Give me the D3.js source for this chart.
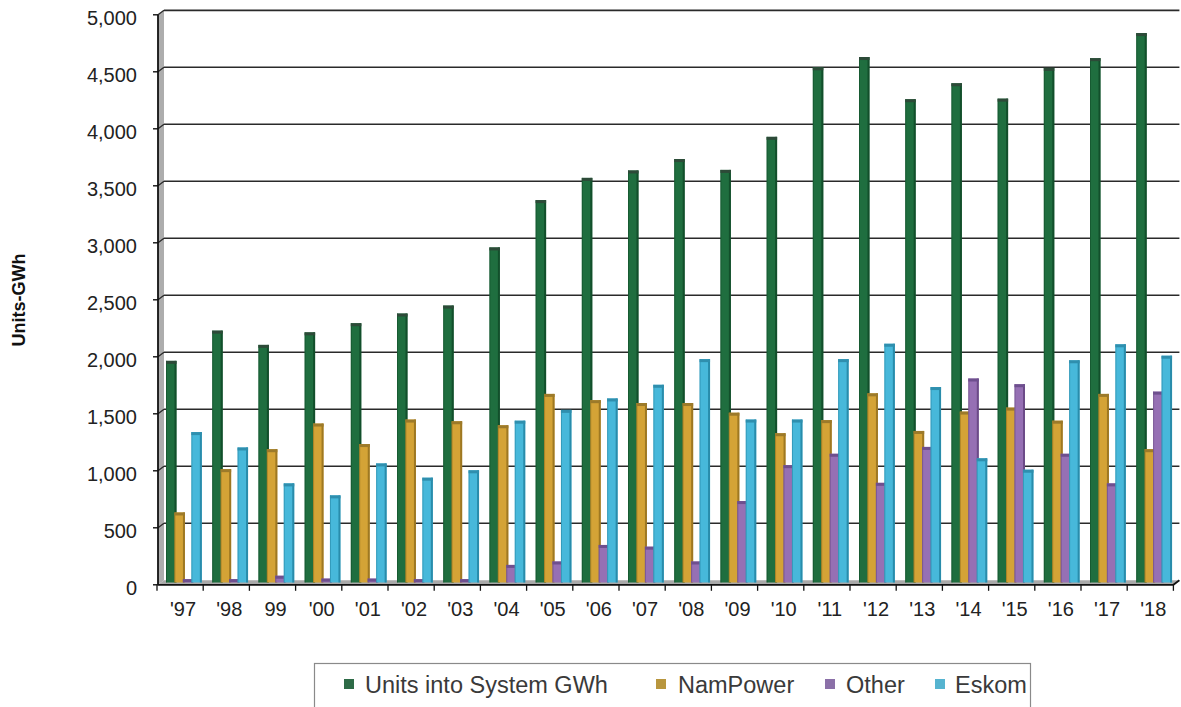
<!DOCTYPE html>
<html>
<head>
<meta charset="utf-8">
<script src="https://cdn.jsdelivr.net/npm/d3@7"></script>
<style>
  html, body { margin: 0; padding: 0; background: #fff; }
  svg { display: block; font-family: "Liberation Sans", Arial, sans-serif; }
</style>
</head>
<body>
<svg id="chart" width="1181" height="707"></svg>
<script>
// ---- data ----
const years = ["'97","'98","99","'00","'01","'02","'03","'04","'05","'06","'07","'08","'09","'10","'11","'12","'13","'14","'15","'16","'17","'18"];
const unitsIntoSystem = [1925,2190,2065,2175,2255,2340,2410,2920,3335,3530,3595,3695,3600,3890,4500,4590,4220,4360,4225,4495,4580,4800];
const namPower = [595,975,1150,1375,1195,1410,1395,1360,1635,1580,1555,1555,1470,1290,1405,1640,1310,1480,1515,1400,1635,1150];
const other = [10,10,40,15,15,10,10,135,165,310,295,165,695,1010,1110,855,1170,1770,1720,1110,850,1655];
const eskom = [1300,1165,850,745,1025,900,965,1400,1495,1595,1715,1940,1410,1410,1940,2075,1695,1070,970,1930,2070,1970];
const seriesNames = ["Units into System GWh","NamPower","Other","Eskom"];
const yTicks = [0,500,1000,1500,2000,2500,3000,3500,4000,4500,5000];
const yTitle = "Units-GWh";

const seriesValues = [unitsIntoSystem, namPower, other, eskom];
const fills   = ["#1f6e3f","#d4a336","#9670b4","#47b8da"];
const edges   = ["#0f4526","#8c6a1c","#5d3f7a","#1f7d9b"];
const caps    = ["#2d4a38","#9c7a2a","#6e4f8e","#2f8fae"];
const legendC = ["#2e6b47","#b8963e","#8b70a8","#56b4d0"];

const svg = d3.select("#chart");

// scales
const x = d3.scaleBand().domain(years).range([157, 157 + 22 * 46.2]).padding(0);
const inner = d3.scaleBand().domain(seriesNames).range([9, 9 + 4 * 8.45]).padding(0);
const barW = 10.5;
const y = d3.scaleLinear().domain([0, 5000]).range([580.3, 10.3]);
const dx = 6, dy = 4.5; // 3D depth offset between front axis and back wall

const xL = 158, xR = x.range()[1];

// left wall
svg.append("polygon")
  .attr("points", [[xL, y(5000)+dy],[xL+dx, y(5000)],[xL+dx, y(0)],[xL, y(0)+dy]].map(p=>p.join(",")).join(" "))
  .attr("fill", "#adadad");

// floor
svg.append("polygon")
  .attr("points", [[xL, y(0)+dy],[xL+dx, y(0)],[xR+dx, y(0)],[xR, y(0)+dy]].map(p=>p.join(",")).join(" "))
  .attr("fill", "#a9a9a9");

// gridlines (back wall) with small diagonal to the wall
const grid = svg.append("g");
yTicks.filter(t => t > 0).forEach(t => {
  grid.append("line")
    .attr("x1", xL + dx).attr("x2", xR + dx)
    .attr("y1", y(t)).attr("y2", y(t))
    .attr("stroke", "#2a2a2a").attr("stroke-width", t === 5000 ? 1.8 : 1.5);
  grid.append("line")
    .attr("x1", xL).attr("y1", y(t) + dy)
    .attr("x2", xL + dx).attr("y2", y(t))
    .attr("stroke", "#2a2a2a").attr("stroke-width", 1.3);
});

// bars
const barsG = svg.append("g");
years.forEach((yr, i) => {
  seriesNames.forEach((s, k) => {
    const v = seriesValues[k][i];
    const bx = x(yr) + inner(s);
    const top = y(v);
    const bottom = y(0) + 2.2;
    const h = Math.max(0, bottom - top);
    barsG.append("rect")
      .attr("x", bx).attr("y", top)
      .attr("width", barW).attr("height", h)
      .attr("fill", fills[k]);
    // darker side strip (3D side)
    barsG.append("rect")
      .attr("x", bx + barW - 2).attr("y", top)
      .attr("width", 2).attr("height", h)
      .attr("fill", edges[k]).attr("opacity", 0.75);
    barsG.append("rect")
      .attr("x", bx).attr("y", top)
      .attr("width", 1).attr("height", h)
      .attr("fill", edges[k]).attr("opacity", 0.5);
    // top cap
    if (h > 3) {
      barsG.append("rect")
        .attr("x", bx).attr("y", top)
        .attr("width", barW).attr("height", 3)
        .attr("fill", caps[k]);
    }
  });
});

// front floor edge
svg.append("path")
  .attr("d", `M${xL},${y(0)+dy} L${xR},${y(0)+dy} L${xR+dx},${y(0)}`)
  .attr("fill", "none").attr("stroke", "#111").attr("stroke-width", 1.8);

// y axis (front)
svg.append("line")
  .attr("x1", xL).attr("x2", xL)
  .attr("y1", y(5000) + dy).attr("y2", y(0) + dy)
  .attr("stroke", "#111").attr("stroke-width", 1.8);

const yAxisG = svg.append("g");
yTicks.forEach(t => {
  yAxisG.append("line")
    .attr("x1", xL - 5).attr("x2", xL)
    .attr("y1", y(t) + dy).attr("y2", y(t) + dy)
    .attr("stroke", "#111").attr("stroke-width", 1.4);
  yAxisG.append("text")
    .attr("x", 137).attr("y", y(t) + dy + 3)
    .attr("text-anchor", "end")
    .attr("dominant-baseline", "central")
    .attr("font-size", 20)
    .attr("fill", "#222")
    .text(d3.format(",")(t));
});

// x ticks at band boundaries
const xAxisG = svg.append("g");
years.forEach(yr => {
  xAxisG.append("line")
    .attr("x1", x(yr)).attr("x2", x(yr))
    .attr("y1", y(0) + dy).attr("y2", y(0) + dy + 6)
    .attr("stroke", "#111").attr("stroke-width", 1.3);
  xAxisG.append("text")
    .attr("x", x(yr) + x.bandwidth() / 2 + 3)
    .attr("y", 609)
    .attr("text-anchor", "middle")
    .attr("dominant-baseline", "central")
    .attr("font-size", 20)
    .attr("fill", "#222")
    .text(yr);
});
xAxisG.append("line")
  .attr("x1", xR).attr("x2", xR)
  .attr("y1", y(0) + dy).attr("y2", y(0) + dy + 6)
  .attr("stroke", "#111").attr("stroke-width", 1.3);

// y title
svg.append("text")
  .attr("transform", "translate(19,300) rotate(-90)")
  .attr("text-anchor", "middle")
  .attr("dominant-baseline", "central")
  .attr("font-size", 18)
  .attr("font-weight", "bold")
  .attr("fill", "#111")
  .text(yTitle);

// legend
const lg = svg.append("g");
lg.append("rect")
  .attr("x", 314.5).attr("y", 663.5)
  .attr("width", 716).attr("height", 60)
  .attr("fill", "#fff").attr("stroke", "#8a8a8a").attr("stroke-width", 1.2);
const legSquareX = [344, 656, 825, 935];
const legTextX = [365, 678, 846, 955];
seriesNames.forEach((s, k) => {
  lg.append("rect")
    .attr("x", legSquareX[k]).attr("y", 679)
    .attr("width", 10).attr("height", 10)
    .attr("fill", legendC[k]);
  lg.append("text")
    .attr("x", legTextX[k]).attr("y", 685)
    .attr("dominant-baseline", "central")
    .attr("font-size", 23.5)
    .attr("fill", "#3a3a3a")
    .text(s);
});
</script>
</body>
</html>
